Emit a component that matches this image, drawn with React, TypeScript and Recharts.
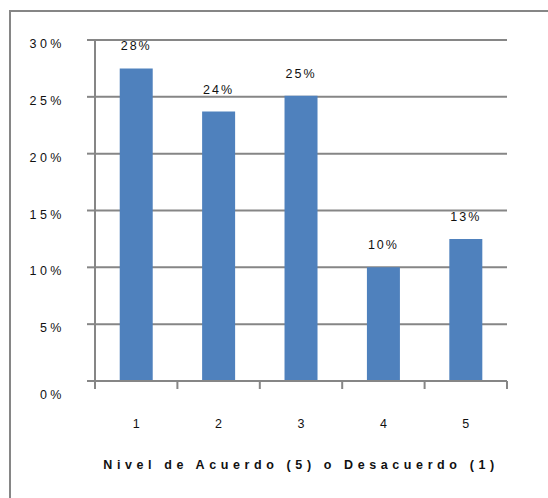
import { BarChart, Bar, XAxis, YAxis, CartesianGrid, LabelList } from 'recharts'

const niveles = ['1', '2', '3', '4', '5']
const porcentajes = [27.5, 23.7, 25.1, 10.0, 12.5]
const etiquetas = ['28%', '24%', '25%', '10%', '13%']
const yTicks = [0, 5, 10, 15, 20, 25, 30]

const data = niveles.map((nivel, i) => ({ nivel, valor: porcentajes[i], etiqueta: etiquetas[i] }))

const GRAY = '#868686'
const FONT = '"Liberation Sans", Arial, sans-serif'

function YTick(props: any) {
  const { x, y, payload } = props
  const extra = payload.value === 0 ? 14 : 4
  return (
    <text x={x} y={y + extra} textAnchor="end" dominantBaseline="central" fontSize={12.5} fill="#111" fontFamily={FONT} letterSpacing={3.5}>
      {payload.value + '%'}
    </text>
  )
}

function XTick(props: any) {
  const { x, y, payload, visibleTicksCount } = props
  const half = payload.offset || 41
  const last = payload.index === (visibleTicksCount ?? niveles.length) - 1
  return (
    <g>
      <line x1={x - half} y1={y} x2={x - half} y2={y + 8} stroke={GRAY} strokeWidth={2} />
      {last && <line x1={x + half} y1={y} x2={x + half} y2={y + 8} stroke={GRAY} strokeWidth={2} />}
      <text x={x} y={y + 43} textAnchor="middle" dominantBaseline="central" fontSize={12.5} fill="#111" fontFamily={FONT}>
        {payload.value}
      </text>
    </g>
  )
}

function BarLabel(props: any) {
  const { x, y, width, value } = props
  return (
    <text x={x + width / 2} y={y - 22} textAnchor="middle" dominantBaseline="central" fontSize={12.5} fill="#111" fontFamily={FONT} letterSpacing={2}>
      {value}
    </text>
  )
}

export default function App() {
  return (
    <div style={{ position: 'absolute', left: 0, top: 0, width: 548, height: 498, overflow: 'hidden', background: '#fff', fontFamily: FONT }}>
      <div style={{ position: 'absolute', left: 9, top: 10, width: 700, height: 700, borderTop: `2px solid ${GRAY}`, borderLeft: `2px solid ${GRAY}` }} />
      <div style={{ position: 'absolute', left: 0, top: 0 }}>
        <BarChart width={548} height={498} data={data} margin={{ top: 40, right: 41, left: 0, bottom: 0 }} barCategoryGap="30%">
          <CartesianGrid vertical={false} stroke={GRAY} strokeWidth={2} />
          <YAxis
            type="number"
            domain={[0, 30]}
            ticks={yTicks}
            width={95}
            axisLine={{ stroke: GRAY, strokeWidth: 2 }}
            tickLine={{ stroke: GRAY, strokeWidth: 2 }}
            tickSize={8}
            tickMargin={22}
            tick={<YTick />}
            interval={0}
          />
          <XAxis
            dataKey="nivel"
            height={117}
            axisLine={{ stroke: GRAY, strokeWidth: 2 }}
            tickLine={false}
            tickSize={0}
            tickMargin={0}
            tick={<XTick />}
            interval={0}
            label={{
              value: 'Nivel de Acuerdo (5) o Desacuerdo (1)',
              position: 'insideBottom',
              offset: 29,
              fontSize: 12.5,
              fontWeight: 'bold',
              fill: '#111',
              letterSpacing: 4.6,
              fontFamily: FONT,
            }}
          />
          <Bar dataKey="valor" fill="#4F81BD" isAnimationActive={false}>
            <LabelList dataKey="etiqueta" content={<BarLabel />} />
          </Bar>
        </BarChart>
      </div>
    </div>
  )
}
